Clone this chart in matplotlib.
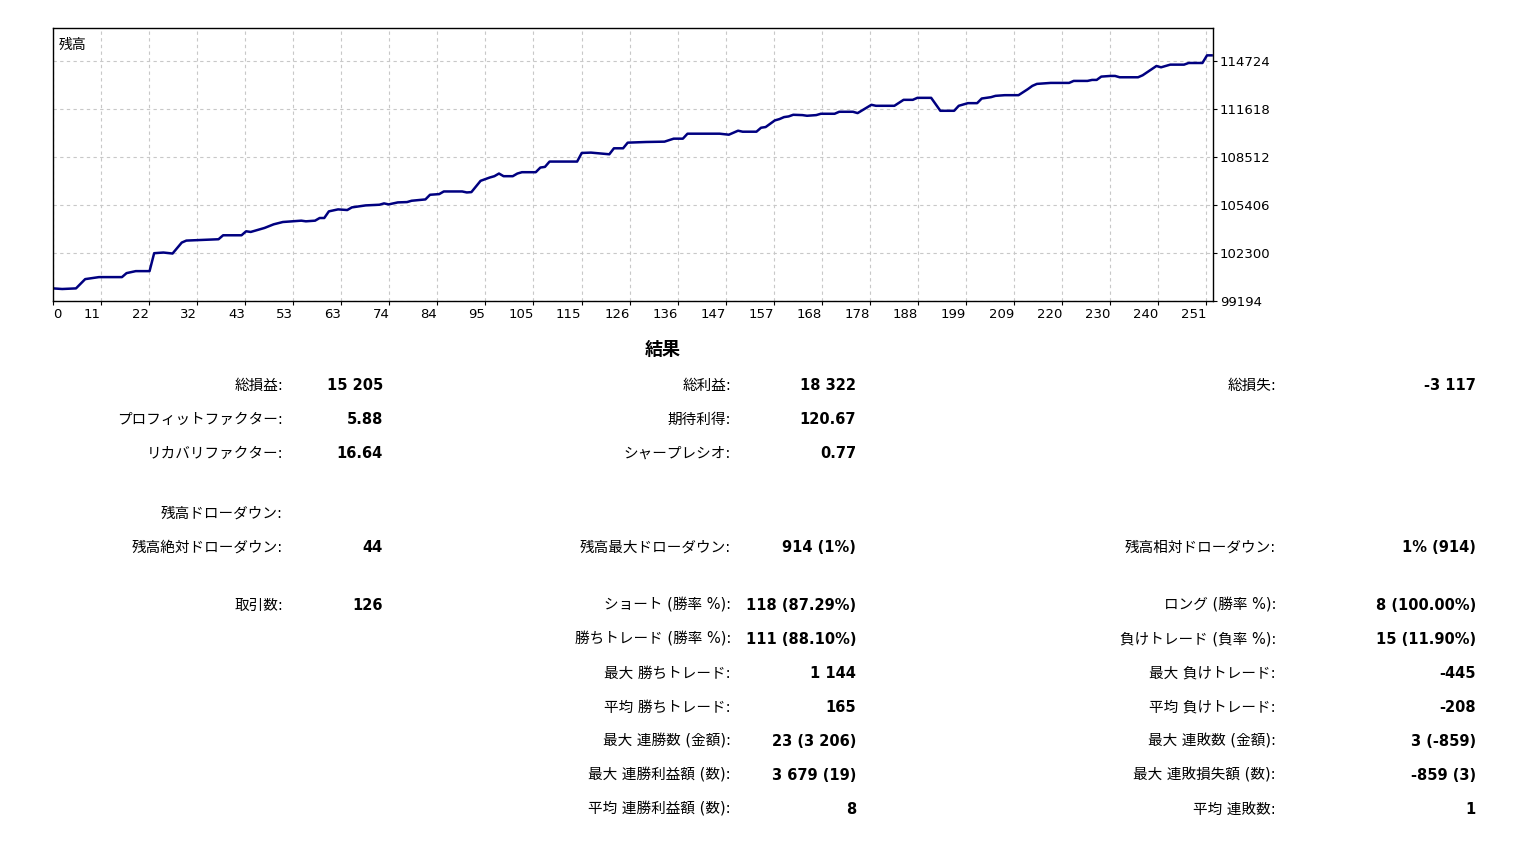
import matplotlib
matplotlib.use("Agg")
import matplotlib.pyplot as plt

plt.rcParams['font.family'] = ['DejaVu Sans', 'Noto Sans CJK JP']

trade_idx = [0,2,5,7,10,15,16,18,21,22,24,26,28,29,36,37,41,42,43,46,48,50,54,55,57,58,59,60,62,64,65,68,71,72,73,75,77,78,81,82,84,85,89,90,91,93,95,96,97,98,100,101,102,105,106,107,108,114,115,117,121,122,124,125,129,
             133,135,137,138,145,147,149,150,153,154,155,157,158,159,160,161,163,164,166,167,170,171,174,175,178,179,183,185,187,188,191,193,196,197,199,201,202,204,205,207,210,212,213,214,217,221,222,225,226,227,228,230,231,232,236,237,240,241,243,246,247,250,251,252]
balance = [100010,99970,100010,100610,100740,100740,100998,101127,101127,102287,102330,102266,102974,103103,103190,103447,103447,103705,103662,103920,104156,104306,104392,104350,104392,104564,104564,104994,105122,105080,105251,105380,105423,105509,105445,105574,105595,105681,105767,106068,106111,106282,106282,106218,106240,106970,107185,107270,107442,107270,107270,107442,107528,107528,107829,107872,108216,108216,108774,108796,108688,109075,109075,109440,109483,
           109505,109698,109698,110020,110020,109955,110213,110149,110149,110406,110450,110880,110965,111094,111137,111244,111223,111180,111223,111309,111309,111438,111438,111352,111889,111825,111825,112211,112211,112340,112340,111502,111502,111825,111996,111996,112297,112383,112469,112512,112512,112898,113113,113242,113306,113306,113435,113435,113500,113500,113714,113757,113757,113671,113671,113800,114401,114316,114488,114488,114595,114595,115089,115089]

x_tick_labels = ['0','11','22','32','43','53','63','74','84','95','105','115','126','136','147','157','168','178','188','199','209','220','230','240','251']
y_ticks = [99194,102300,105406,108512,111618,114724]

rows_left = [("総損益:", "15 205"), ("プロフィットファクター:", "5.88"), ("リカバリファクター:", "16.64"),
             ("残高ドローダウン:", ""), ("残高絶対ドローダウン:", "44"), ("取引数:", "126")]
rows_mid = [("総利益:", "18 322"), ("期待利得:", "120.67"), ("シャープレシオ:", "0.77"),
            ("残高最大ドローダウン:", "914 (1%)"), ("ショート (勝率 %):", "118 (87.29%)"),
            ("勝ちトレード (勝率 %):", "111 (88.10%)"), ("最大 勝ちトレード:", "1 144"),
            ("平均 勝ちトレード:", "165"), ("最大 連勝数 (金額):", "23 (3 206)"),
            ("最大 連勝利益額 (数):", "3 679 (19)"), ("平均 連勝利益額 (数):", "8")]
rows_right = [("総損失:", "-3 117"), ("残高相対ドローダウン:", "1% (914)"), ("ロング (勝率 %):", "8 (100.00%)"),
              ("負けトレード (負率 %):", "15 (11.90%)"), ("最大 負けトレード:", "-445"),
              ("平均 負けトレード:", "-208"), ("最大 連敗数 (金額):", "3 (-859)"),
              ("最大 連敗損失額 (数):", "-859 (3)"), ("平均 連敗数:", "1")]

W, H = 1513, 842
fig = plt.figure(figsize=(W/100, H/100), dpi=100)
fig.patch.set_facecolor('white')
ax = fig.add_axes([53/W, 1-301/H, (1213-53)/W, (301-28)/H])
ax.plot(trade_idx, balance, color='#000080', lw=1.8)
ax.set_xlim(0, 252.3)
ax.set_ylim(99194, 116859)
step = 10.45
ax.set_xticks([k*step for k in range(len(x_tick_labels))])
ax.set_xticklabels(x_tick_labels, fontsize=9.5)
for i, lab in enumerate(ax.get_xticklabels()):
    lab.set_ha('left' if i == 0 else 'right')
ax.yaxis.tick_right()
ax.set_yticks(y_ticks)
ax.set_yticklabels([str(v) for v in y_ticks], fontsize=9.5)
ax.tick_params(length=3, pad=2)
ax.grid(True, color='#c8c8c8', ls=(0, (3, 3)), lw=0.8)
for s in ax.spines.values():
    s.set_linewidth(1.0)
ax.text(0.005, 0.965, "残高", transform=ax.transAxes, fontsize=10, va='top', ha='left')

def ft(x, y, s, ha='right', bold=False, size=10.5):
    fig.text(x/W, 1-y/H, s, ha=ha, va='center', fontsize=size,
             fontweight='bold' if bold else 'normal')

ft(663, 350, "結果", ha='center', bold=True, size=13)
ly = [385, 419, 453, 513, 547, 605]
for y, (l, v) in zip(ly, rows_left):
    ft(283, y, l); ft(383, y, v, bold=True)
my = [385, 419, 453, 547, 605, 639, 673, 707, 741, 775, 809]
for y, (l, v) in zip(my, rows_mid):
    ft(731, y, l); ft(856, y, v, bold=True)
ry = [385, 547, 605, 639, 673, 707, 741, 775, 809]
for y, (l, v) in zip(ry, rows_right):
    ft(1276, y, l); ft(1476, y, v, bold=True)

fig.savefig("out.png", dpi=100, facecolor='white')
